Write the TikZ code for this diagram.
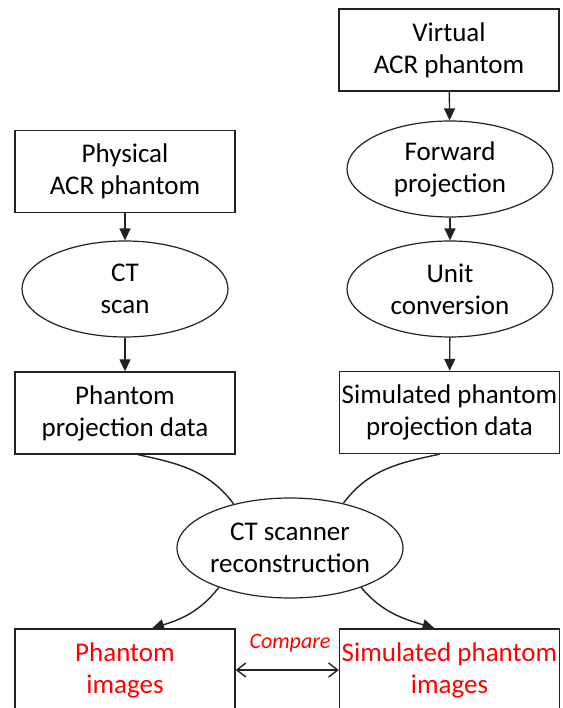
\documentclass[tikz,border=0pt]{standalone}
\usepackage{fontspec}
\setmainfont{Carlito}
\usepackage{tikz}
\usetikzlibrary{shapes.geometric,arrows.meta}
\definecolor{ink}{HTML}{222222}
\definecolor{hot}{HTML}{FF0000}
\newcommand{\mainsz}{\fontsize{27}{32}\selectfont}
\newcommand{\cmpsz}{\fontsize{22}{26}\selectfont}
\tikzset{
  blk/.style={draw=ink, line width=1.4pt, minimum width=220pt, minimum height=82pt, inner sep=0pt, align=center, font=\mainsz},
  oval/.style={draw=ink, ellipse, line width=1.2pt, minimum width=206pt, minimum height=96pt, inner sep=0pt, align=center, font=\mainsz},
  flow/.style={draw=ink, line width=1.4pt, -{Triangle[length=12pt,width=11pt]}},
  link/.style={draw=ink, line width=1.4pt},
  cmp/.style={draw=ink, line width=1.4pt, {Straight Barb[length=9pt,width=14pt]}-{Straight Barb[length=9pt,width=14pt]}},
  lab/.style={text=hot},
}

\begin{document}
\begin{tikzpicture}[x=1pt,y=1pt]
  \clip (0,0) rectangle (562,708);
  \fill[white] (0,0) rectangle (562,708);
  % right column
  \node[blk] (virt) at (449,658) {Virtual\\ACR phantom};
  \node[oval] (fwd) at (450,539) {Forward\\projection};
  \node[oval] (unit) at (450,419) {Unit\\conversion};
  \node[blk] (sdata) at (449.5,295.5) {Simulated phantom\\projection data};
  % left column
  \node[blk] (phys) at (125,536.5) {Physical\\ACR phantom};
  \node[oval] (scan) at (125,419) {CT\\scan};
  \node[blk] (pdata) at (125,295) {Phantom\\projection data};
  % reconstruction and results
  \node[oval, minimum width=226pt, minimum height=100pt] (recon) at (290,160) {CT scanner\\reconstruction};
  \node[blk, lab] (pimg) at (125,38) {Phantom\\images};
  \node[blk, lab] (simg) at (449.5,38) {Simulated phantom\\images};
  \node[lab, font=\cmpsz\itshape] (cmplbl) at (290,65) {Compare};

  \draw[flow] (virt) -- (fwd);
  \draw[flow] (fwd) -- (unit);
  \draw[flow] (unit) -- (sdata);
  \draw[flow] (phys) -- (scan);
  \draw[flow] (scan) -- (pdata);
  \draw[link] ([xshift=13pt]pdata.south) to[out=-12,in=127] (recon.142);
  \draw[link] ([xshift=-10pt]sdata.south) to[out=192,in=53] (recon.40);
  \draw[flow] (recon.209) to[out=232,in=17] ([xshift=27pt]pimg.north);
  \draw[flow] (recon.-29) to[out=-50,in=163] ([xshift=-15pt]simg.north);
  \draw[cmp] (pimg.east) -- (simg.west);
\end{tikzpicture}
\end{document}
